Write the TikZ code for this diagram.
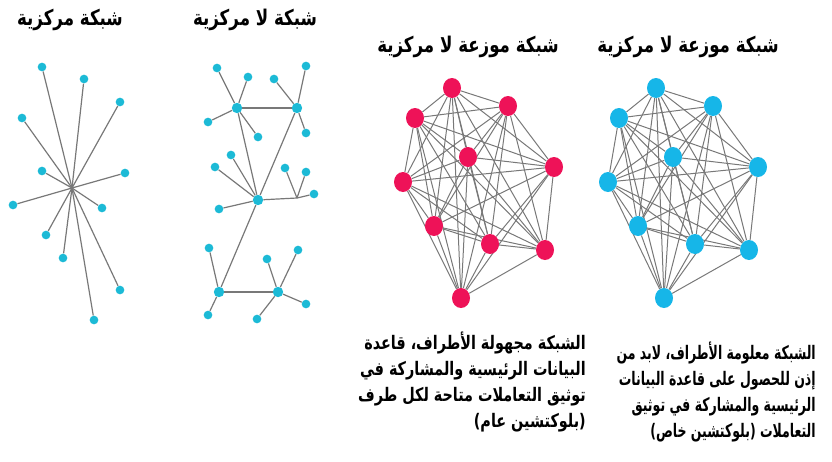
\documentclass[tikz,border=0pt]{standalone}
\usepackage{fontspec}
\newfontfamily\arabicfont[Script=Arabic,FakeStretch=0.77]{DejaVu Sans}
\newfontfamily\arabicnarrow[Script=Arabic,FakeStretch=0.67]{DejaVu Sans}
\TeXXeTstate=1
\usetikzlibrary{shapes.geometric,backgrounds}
\definecolor{leafcyan}{RGB}{28,186,214}
\definecolor{peerred}{RGB}{238,18,88}
\definecolor{peerblue}{RGB}{22,182,232}
\definecolor{linkgray}{RGB}{120,120,120}
\newcommand{\artext}[1]{{\arabicfont\bfseries\beginR #1\endR}}
\newcommand{\arnarrow}[1]{{\arabicnarrow\bfseries\beginR #1\endR}}

\begin{document}
\begin{tikzpicture}[x=0.75pt,y=-0.75pt,
    leaf/.style={circle,fill=leafcyan,inner sep=0pt,minimum size=6.5pt},
    hubleaf/.style={leaf,minimum size=7.8pt},
    peer/.style={ellipse,inner sep=0pt,minimum width=13.5pt,minimum height=15pt},
    link/.style={linkgray,line width=0.9pt},
    mesh/.style={linkgray,line width=0.75pt},
    title/.style={font=\fontsize{16.2}{18}\selectfont},
    caption/.style={font=\fontsize{14}{19.5}\selectfont,align=right,anchor=north east,inner sep=0pt}]
\useasboundingbox (0,0) rectangle (832,461);

% titles
\node[title] (t1) at (70,20) {\artext{شبكة مركزية}};
\node[title] (t2) at (255,20) {\artext{شبكة لا مركزية}};
\node[title] (t3) at (468,47) {\artext{شبكة موزعة لا مركزية}};
\node[title] (t4) at (688,47) {\artext{شبكة موزعة لا مركزية}};

% centralised network
\coordinate (hub) at (72,188);
\foreach \p [count=\n] in {(42,67),(84,79),(120,102),(22,118),(42,171),(125,173),
    (13,205),(102,208),(46,235),(63,258),(120,290),(94,320)}
  \node[leaf] (c\n) at \p {};
\begin{scope}[on background layer]
\foreach \n in {1,...,12}
  \draw[link] (hub) -- (c\n);
\end{scope}

% decentralised network
\node[hubleaf] (da) at (237,108) {};
\node[hubleaf] (db) at (297,108) {};
\node[hubleaf] (dc) at (258,200) {};
\node[hubleaf] (dd) at (219,292) {};
\node[hubleaf] (de) at (278,292) {};
\coordinate (dj) at (297,198);
\foreach \p [count=\n] in {(217,68),(248,77),(208,122),(258,137)}
  \node[leaf] (da\n) at \p {};
\foreach \p [count=\n] in {(306,66),(274,79),(306,133)}
  \node[leaf] (db\n) at \p {};
\foreach \p [count=\n] in {(215,167),(231,155),(219,209)}
  \node[leaf] (dc\n) at \p {};
\foreach \p [count=\n] in {(285,168),(306,172),(314,194)}
  \node[leaf] (dj\n) at \p {};
\foreach \p [count=\n] in {(209,248),(208,315)}
  \node[leaf] (dd\n) at \p {};
\foreach \p [count=\n] in {(267,259),(298,250),(306,304),(257,319)}
  \node[leaf] (de\n) at \p {};
\begin{scope}[on background layer]
\draw[link] (da) -- (db);
\draw[link] (da) -- (dc);
\draw[link] (db) -- (dc);
\draw[link] (dc) -- (dj);
\draw[link] (dc) -- (dd);
\draw[link] (dd) -- (de);
\foreach \n in {1,...,4} \draw[link] (da) -- (da\n);
\foreach \n in {1,...,3} \draw[link] (db) -- (db\n);
\foreach \n in {1,...,3} \draw[link] (dc) -- (dc\n);
\foreach \n in {1,...,3} \draw[link] (dj) -- (dj\n);
\foreach \n in {1,2} \draw[link] (dd) -- (dd\n);
\foreach \n in {1,...,4} \draw[link] (de) -- (de\n);
\end{scope}

% distributed networks
\foreach \p [count=\n] in {(452,88),(508,106),(415,118),(468,157),(554,167),
    (403,182),(434,226),(490,244),(545,250),(461,298)}
  \node[peer,fill=peerred] (r\n) at \p {};
\foreach \p [count=\n] in {(656,88),(713,106),(619,118),(673,157),(758,167),
    (608,182),(638,226),(695,244),(749,250),(664,298)}
  \node[peer,fill=peerblue] (b\n) at \p {};
\begin{scope}[on background layer]
\foreach \i in {1,...,9} {
  \pgfmathtruncatemacro\k{\i+1}
  \foreach \j in {\k,...,10} {
    \draw[mesh] (r\i) -- (r\j);
    \draw[mesh] (b\i) -- (b\j);
  }
}
\end{scope}

% captions
\node[caption] (capl) at (586,332) {\artext{الشبكة مجهولة الأطراف، قاعدة}\\
  \artext{البيانات الرئيسية والمشاركة في}\\
  \artext{توثيق التعاملات متاحة لكل طرف}\\
  \artext{(بلوكتشين عام)}};
\node[caption] (capr) at (816,342) {\arnarrow{الشبكة معلومة الأطراف، لابد من}\\
  \arnarrow{إذن للحصول على قاعدة البيانات}\\
  \arnarrow{الرئيسية والمشاركة في توثيق}\\
  \arnarrow{التعاملات (بلوكتشين خاص)}};
\end{tikzpicture}
\end{document}
